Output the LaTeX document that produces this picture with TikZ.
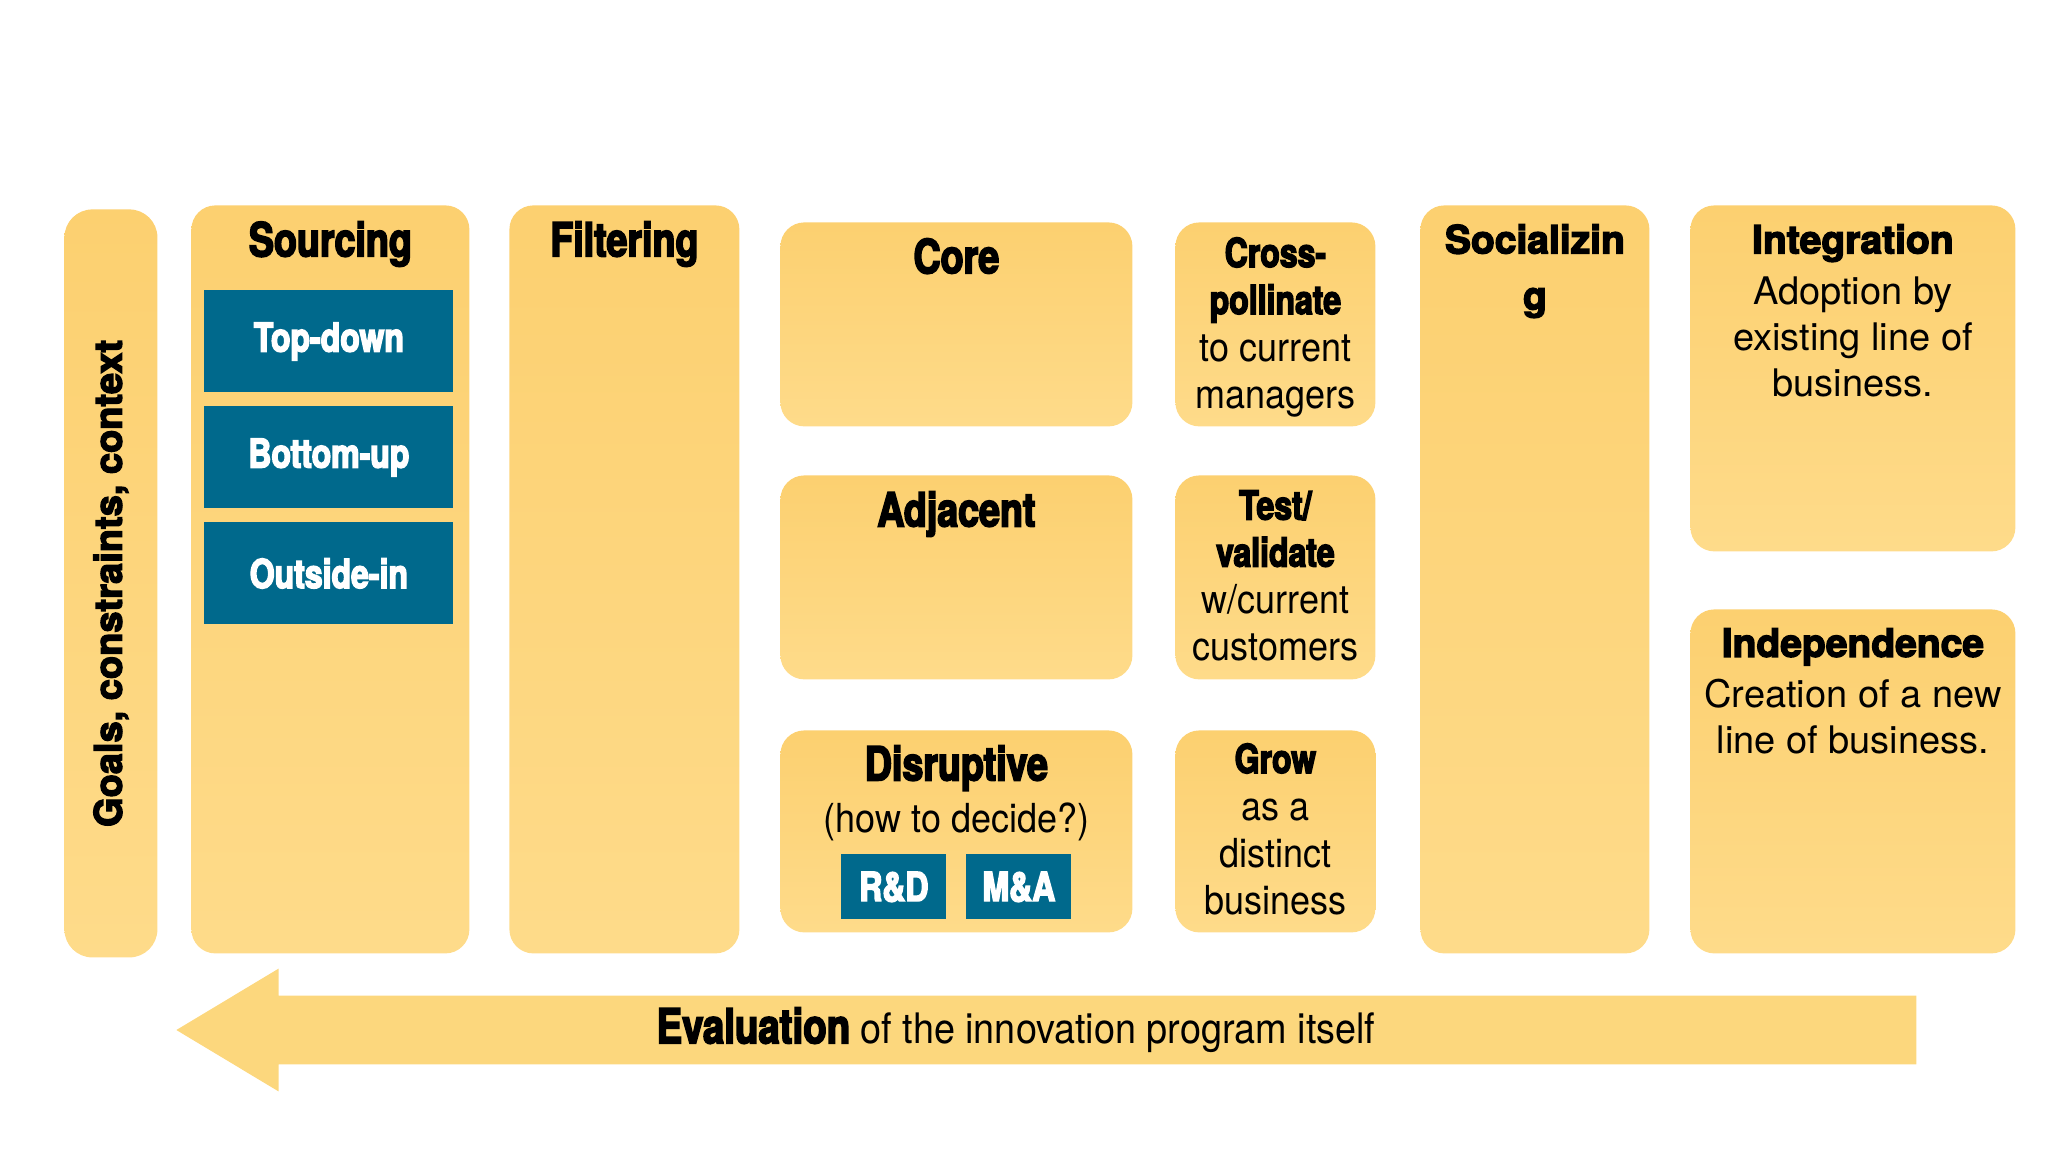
\documentclass[tikz,border=0pt]{standalone}
\usepackage{fontspec}
\usepackage{xcolor}
\usepackage{tikz}
\usetikzlibrary{positioning,shapes.arrows}

\setmainfont{TeX Gyre Heros}
\newfontfamily\condfam[FakeStretch=0.8,BoldFeatures={FakeBold=3.5}]{TeX Gyre Heros}
\newfontfamily\lightfam[FakeStretch=0.9]{TeX Gyre Heros}
\newfontfamily\blackfam[BoldFeatures={FakeBold=3.5}]{TeX Gyre Heros}

\definecolor{boxtop}{RGB}{252,208,112}
\definecolor{boxbot}{RGB}{254,219,138}
\definecolor{arrowyel}{RGB}{252,215,125}
\definecolor{tileblue}{RGB}{0,105,140}

\begin{document}
\begin{tikzpicture}[x=0.5pt, y=-0.5pt,
    panel/.style={anchor=north west, inner sep=0pt, rounded corners=12pt, top color=boxtop, bottom color=boxbot},
    tile/.style={anchor=north west, inner sep=0pt, fill=tileblue, text=white, font=\condfam\bfseries\fontsize{20}{24}\selectfont},
    head/.style={anchor=north, inner sep=0pt, align=center, font=\condfam\bfseries\fontsize{23.5}{28}\selectfont},
    small/.style={anchor=north, inner sep=0pt, align=center, font=\lightfam\fontsize{20}{23.5}\selectfont},
    wide/.style={anchor=north, inner sep=0pt, align=center, font=\fontsize{19}{23}\selectfont}]
    \useasboundingbox (0,0) rectangle (2048,1152);

    % columns
    \node[panel, rounded corners=14pt, minimum width=46.5pt, minimum height=374pt] (goals) at (64,209) {};
    \node[panel, minimum width=139pt, minimum height=374pt] (sourcing) at (191,205) {};
    \node[panel, minimum width=115pt, minimum height=374pt] (filtering) at (509,205) {};
    \node[panel, minimum width=176pt, minimum height=102pt] (core) at (780,222) {};
    \node[panel, minimum width=176pt, minimum height=102pt] (adjacent) at (780,475) {};
    \node[panel, minimum width=176pt, minimum height=101pt] (disruptive) at (780,730) {};
    \node[panel, minimum width=100pt, minimum height=102pt] (cross) at (1175,222) {};
    \node[panel, minimum width=100pt, minimum height=102pt] (test) at (1175,475) {};
    \node[panel, minimum width=100pt, minimum height=101pt] (grow) at (1175,730) {};
    \node[panel, minimum width=114.5pt, minimum height=374pt] (socializing) at (1420,205) {};
    \node[panel, minimum width=162.5pt, minimum height=173pt] (integration) at (1690,205) {};
    \node[panel, minimum width=162.5pt, minimum height=172pt] (independence) at (1690,609) {};

    % blue tiles
    \node[tile, minimum width=124.5pt, minimum height=51pt] (topdown) at (204,290) {Top-down};
    \node[tile, minimum width=124.5pt, minimum height=51pt] (bottomup) at (204,406) {Bottom-up};
    \node[tile, minimum width=124.5pt, minimum height=51pt] (outsidein) at (204,522) {Outside-in};
    \node[tile, minimum width=52.5pt, minimum height=32.5pt] (rnd) at (841,854) {R\&D};
    \node[tile, minimum width=52.5pt, minimum height=32.5pt] (mna) at (966,854) {M\&A};

    % texts
    \node[rotate=90, inner sep=0pt, font=\blackfam\bfseries\fontsize{19}{23}\selectfont] (goals-t) at (goals.center) {Goals, constraints, context};
    \node[head, below=8pt of sourcing.north] (sourcing-t) {Sourcing};
    \node[head, below=8pt of filtering.north] (filtering-t) {Filtering};
    \node[head, below=8pt of core.north] (core-t) {Core};
    \node[head, below=8pt of adjacent.north] (adjacent-t) {Adjacent};
    \node[head, below=7.5pt of disruptive.north] (disruptive-t) {Disruptive\\[-2pt]{\lightfam\mdseries\fontsize{20}{24}\selectfont (how to decide?)}};
    \node[small, below=7.5pt of cross.north] (cross-t) {{\condfam\bfseries Cross-}\\{\condfam\bfseries pollinate}\\to current\\managers};
    \node[small, below=7.5pt of test.north] (test-t) {{\condfam\bfseries Test/}\\{\condfam\bfseries validate}\\w/current\\customers};
    \node[small, below=6.5pt of grow.north] (grow-t) {{\condfam\bfseries Grow}\\as a\\distinct\\business};
    \node[wide, below=9.5pt of socializing.north, font=\blackfam\bfseries\fontsize{19.5}{28}\selectfont] (socializing-t) {Socializin\\g};
    \node[wide, below=9.5pt of integration.north] (integration-t) {{\blackfam\bfseries\fontsize{19.5}{23}\selectfont Integration}\\[2.5pt]Adoption by\\existing line of\\business.};
    \node[wide, below=9.5pt of independence.north] (independence-t) {{\blackfam\bfseries\fontsize{19.5}{23}\selectfont Independence}\\[2.5pt]Creation of a new\\line of business.};

    % evaluation arrow
    \node[single arrow, shape border rotate=180, fill=arrowyel, inner xsep=0pt, inner ysep=17pt, minimum height=870pt,
          single arrow head extend=13.5pt, single arrow tip angle=62] (evaluation) at (1075,1030) {};
    \node[inner sep=0pt, font=\lightfam\fontsize{21}{24}\selectfont, xshift=-29.5pt] (evaluation-t) at (evaluation.center)
        {{\condfam\bfseries\fontsize{24}{24}\selectfont Evaluation} of the innovation program itself};
\end{tikzpicture}
\end{document}
